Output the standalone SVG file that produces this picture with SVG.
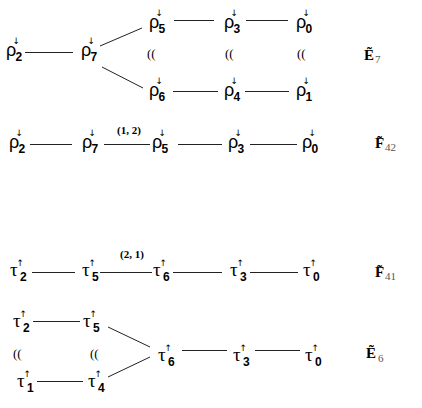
<svg xmlns="http://www.w3.org/2000/svg" width="422" height="408" viewBox="0 0 422 408">
<style>
.r{font:18px "Liberation Sans",sans-serif;fill:#000}
.t{font:19px "Liberation Serif",serif;fill:#000}
.a{font-family:"DejaVu Sans",sans-serif;font-size:9px;font-weight:normal}
.s{font-family:"Liberation Sans",sans-serif;font-size:12px;font-weight:bold}
.e{font:bold 15px "Liberation Serif",serif;fill:#000}
.es{font-family:"Liberation Serif",serif;font-size:11px;font-weight:normal;fill:#555}
.w{font:13px "Liberation Serif",serif;fill:#000}
.m{font:bold 11px "Liberation Serif",serif;text-anchor:middle;fill:#000}
.c line{stroke:#222;stroke-width:1}
</style>
<rect width="422" height="408" fill="#fff"/>
<g class="c" id="connectors">
<line x1="25" y1="52.5" x2="73" y2="52.5"/>
<line x1="100" y1="46" x2="142" y2="28"/>
<line x1="102" y1="67" x2="143" y2="88"/>
<line x1="174" y1="20.5" x2="214" y2="20.5"/>
<line x1="246" y1="20.5" x2="288" y2="20.5"/>
<line x1="173" y1="91.5" x2="218" y2="91.5"/>
<line x1="245" y1="91.5" x2="289" y2="91.5"/>
<line x1="30" y1="144.5" x2="72" y2="144.5"/>
<line x1="104" y1="144.5" x2="150" y2="144.5"/>
<line x1="178" y1="144.5" x2="222" y2="144.5"/>
<line x1="250" y1="144.5" x2="297" y2="144.5"/>
<line x1="32" y1="272.5" x2="75" y2="272.5"/>
<line x1="100" y1="272.5" x2="152" y2="272.5"/>
<line x1="173" y1="272.5" x2="222" y2="272.5"/>
<line x1="250" y1="272.5" x2="298" y2="272.5"/>
<line x1="33" y1="321.5" x2="80" y2="321.5"/>
<line x1="37" y1="381.5" x2="83" y2="381.5"/>
<line x1="108" y1="327" x2="150" y2="347"/>
<line x1="108" y1="377" x2="150" y2="357"/>
<line x1="182" y1="350.5" x2="227" y2="350.5"/>
<line x1="255" y1="350.5" x2="300" y2="350.5"/>
</g>
<g id="e7-rho2" transform="translate(6,56)"><text class="r">ρ<tspan class="a" x="6.5" y="-12">↓︎</tspan><tspan class="s" x="9.5" y="5">2</tspan></text></g>
<g id="e7-rho7" transform="translate(81,56)"><text class="r">ρ<tspan class="a" x="6.5" y="-12">↓︎</tspan><tspan class="s" x="9.5" y="5">7</tspan></text></g>
<g id="e7-rho5" transform="translate(149,28)"><text class="r">ρ<tspan class="a" x="6.5" y="-12">↓︎</tspan><tspan class="s" x="9.5" y="5">5</tspan></text></g>
<g id="e7-rho3" transform="translate(224,28)"><text class="r">ρ<tspan class="a" x="6.5" y="-12">↓︎</tspan><tspan class="s" x="9.5" y="5">3</tspan></text></g>
<g id="e7-rho0" transform="translate(296,28)"><text class="r">ρ<tspan class="a" x="6.5" y="-12">↓︎</tspan><tspan class="s" x="9.5" y="5">0</tspan></text></g>
<g id="e7-rho6" transform="translate(149,96)"><text class="r">ρ<tspan class="a" x="6.5" y="-12">↓︎</tspan><tspan class="s" x="9.5" y="5">6</tspan></text></g>
<g id="e7-rho4" transform="translate(224,96)"><text class="r">ρ<tspan class="a" x="6.5" y="-12">↓︎</tspan><tspan class="s" x="9.5" y="5">4</tspan></text></g>
<g id="e7-rho1" transform="translate(296,96)"><text class="r">ρ<tspan class="a" x="6.5" y="-12">↓︎</tspan><tspan class="s" x="9.5" y="5">1</tspan></text></g>
<g id="e7-iso"><text class="w" x="147" y="58">((</text><text class="w" x="225" y="58">((</text><text class="w" x="297" y="58">((</text></g>
<g id="e7-label"><text class="e" x="364" y="60">Ẽ<tspan class="es" x="375" y="63">7</tspan></text></g>

<g id="f42-rho2" transform="translate(9,148)"><text class="r">ρ<tspan class="a" x="6.5" y="-12">↓︎</tspan><tspan class="s" x="9.5" y="5">2</tspan></text></g>
<g id="f42-rho7" transform="translate(82,148)"><text class="r">ρ<tspan class="a" x="6.5" y="-12">↓︎</tspan><tspan class="s" x="9.5" y="5">7</tspan></text></g>
<g id="f42-rho5" transform="translate(152,148)"><text class="r">ρ<tspan class="a" x="6.5" y="-12">↓︎</tspan><tspan class="s" x="9.5" y="5">5</tspan></text></g>
<g id="f42-rho3" transform="translate(228,148)"><text class="r">ρ<tspan class="a" x="6.5" y="-12">↓︎</tspan><tspan class="s" x="9.5" y="5">3</tspan></text></g>
<g id="f42-rho0" transform="translate(302,148)"><text class="r">ρ<tspan class="a" x="6.5" y="-12">↓︎</tspan><tspan class="s" x="9.5" y="5">0</tspan></text></g>
<text class="m" x="129" y="134">(1, 2)</text>
<g id="f42-label"><text class="e" x="375" y="148">F̃<tspan class="es" x="385" y="151">42</tspan></text></g>

<g id="f41-tau2" transform="translate(10,276)"><text class="t">τ<tspan class="a" x="6.5" y="-10">↑︎</tspan><tspan class="s" x="10" y="5">2</tspan></text></g>
<g id="f41-tau5" transform="translate(82,276)"><text class="t">τ<tspan class="a" x="6.5" y="-10">↑︎</tspan><tspan class="s" x="10" y="5">5</tspan></text></g>
<g id="f41-tau6" transform="translate(153,276)"><text class="t">τ<tspan class="a" x="6.5" y="-10">↑︎</tspan><tspan class="s" x="10" y="5">6</tspan></text></g>
<g id="f41-tau3" transform="translate(230,276)"><text class="t">τ<tspan class="a" x="6.5" y="-10">↑︎</tspan><tspan class="s" x="10" y="5">3</tspan></text></g>
<g id="f41-tau0" transform="translate(303,276)"><text class="t">τ<tspan class="a" x="6.5" y="-10">↑︎</tspan><tspan class="s" x="10" y="5">0</tspan></text></g>
<text class="m" x="132" y="258">(2, 1)</text>
<g id="f41-label"><text class="e" x="375" y="277">F̃<tspan class="es" x="385" y="280">41</tspan></text></g>

<g id="e6-tau2" transform="translate(13,327)"><text class="t">τ<tspan class="a" x="6.5" y="-10">↑︎</tspan><tspan class="s" x="10" y="5">2</tspan></text></g>
<g id="e6-tau5" transform="translate(83,327)"><text class="t">τ<tspan class="a" x="6.5" y="-10">↑︎</tspan><tspan class="s" x="10" y="5">5</tspan></text></g>
<g id="e6-tau1" transform="translate(17,387)"><text class="t">τ<tspan class="a" x="6.5" y="-10">↑︎</tspan><tspan class="s" x="10" y="5">1</tspan></text></g>
<g id="e6-tau4" transform="translate(88,387)"><text class="t">τ<tspan class="a" x="6.5" y="-10">↑︎</tspan><tspan class="s" x="10" y="5">4</tspan></text></g>
<g id="e6-tau6" transform="translate(158,361)"><text class="t">τ<tspan class="a" x="6.5" y="-10">↑︎</tspan><tspan class="s" x="10" y="5">6</tspan></text></g>
<g id="e6-tau3" transform="translate(233,361)"><text class="t">τ<tspan class="a" x="6.5" y="-10">↑︎</tspan><tspan class="s" x="10" y="5">3</tspan></text></g>
<g id="e6-tau0" transform="translate(305,361)"><text class="t">τ<tspan class="a" x="6.5" y="-10">↑︎</tspan><tspan class="s" x="10" y="5">0</tspan></text></g>
<g id="e6-iso"><text class="w" x="13" y="358">((</text><text class="w" x="90" y="358">((</text></g>
<g id="e6-label"><text class="e" x="366" y="358">Ẽ<tspan class="es" x="378" y="362">6</tspan></text></g>
</svg>
